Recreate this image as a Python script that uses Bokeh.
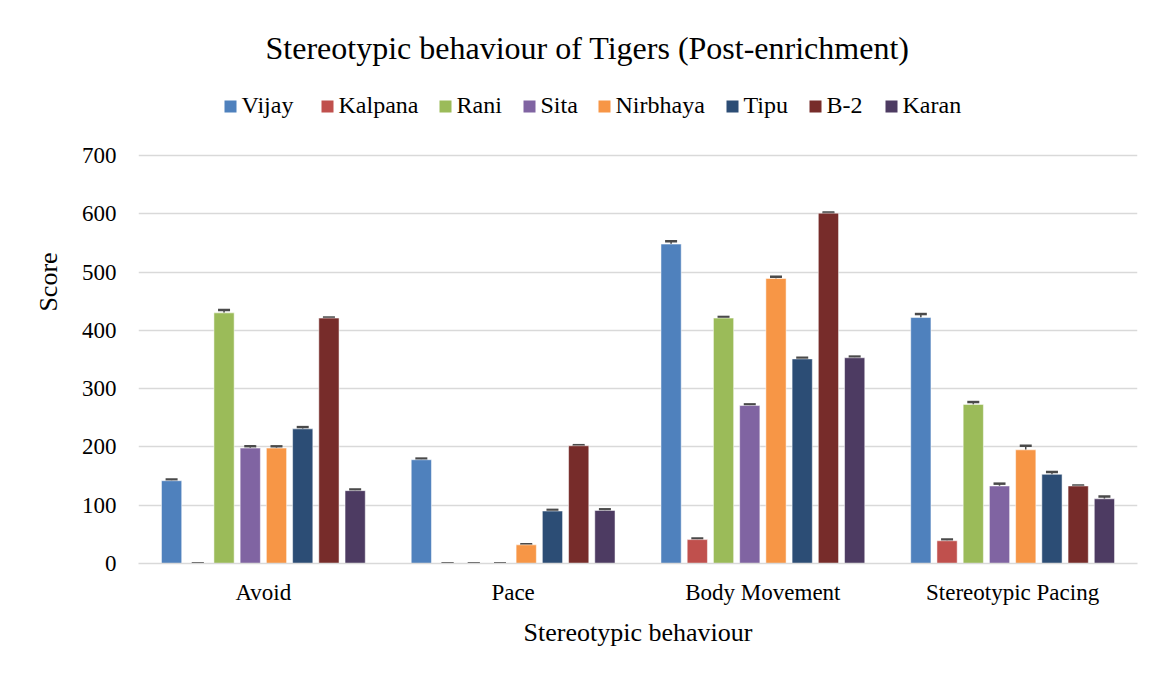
from bokeh.plotting import figure
from bokeh.models import (ColumnDataSource, FactorRange, Range1d, FixedTicker, Whisker,
                          TeeHead, Label, BoxAnnotation)
from bokeh.transform import dodge
from bokeh.embed import file_html
from bokeh.resources import INLINE

categories = ["Avoid", "Pace", "Body Movement", "Stereotypic Pacing"]
tigers = ["Vijay", "Kalpana", "Rani", "Sita", "Nirbhaya", "Tipu", "B-2", "Karan"]
colors = ["#4f81bd", "#c0504d", "#9bbb59", "#8064a2", "#f79646", "#2c4d75", "#772c2a", "#4d3b62"]

vijay    = [142, 178, 548, 422]
kalpana  = [0, 0, 41, 39]
rani     = [430, 0, 421, 273]
sita     = [198, 0, 271, 133]
nirbhaya = [198, 32, 489, 195]
tipu     = [231, 90, 351, 153]
b2       = [421, 202, 601, 133]
karan    = [125, 91, 353, 111]

vijay_err    = [2, 2, 5, 6]
kalpana_err  = [0, 0, 2, 2]
rani_err     = [5, 0, 2, 4]
sita_err     = [3, 0, 2, 4]
nirbhaya_err = [3, 1, 3, 7]
tipu_err     = [3, 2, 2, 4]
b2_err       = [1, 1, 1, 1]
karan_err    = [2, 2, 2, 4]

series = [vijay, kalpana, rani, sita, nirbhaya, tipu, b2, karan]
errors = [vijay_err, kalpana_err, rani_err, sita_err, nirbhaya_err, tipu_err, b2_err, karan_err]

y_ticks = [0, 100, 200, 300, 400, 500, 600, 700]

FONT = "Liberation Serif"

# frame extends to the top of the figure so title/legend live inside it (no clipping)
FRAME_LEFT = 138
FRAME_H = 563
Y_TOP = 700 * FRAME_H / 408.0

p = figure(x_range=FactorRange(*categories, range_padding=0), y_range=Range1d(0, Y_TOP),
           width=1150, height=665, output_backend="svg", toolbar_location=None,
           min_border_left=FRAME_LEFT, min_border_right=13, min_border_top=0, min_border_bottom=102)
p.outline_line_color = None
p.background_fill_color = "white"
p.border_fill_color = "white"

pitch = 0.105
bw = 0.081
for i, (name, vals, errs, col) in enumerate(zip(tigers, series, errors, colors)):
    off = (i - 3.5) * pitch
    src = ColumnDataSource(dict(cat=categories, val=vals,
                                upper=[v + e for v, e in zip(vals, errs)],
                                lower=[v - e for v, e in zip(vals, errs)]))
    p.vbar(x=dodge("cat", off, range=p.x_range), top="val", bottom=0, width=bw,
           source=src, fill_color=col, line_color="white", line_alpha=0.5, line_width=1)
    w = Whisker(base=dodge("cat", off, range=p.x_range), upper="upper", lower="lower",
                source=src, line_color="#4a4a4a", line_width=1.5,
                upper_head=TeeHead(size=12, line_color="#4a4a4a", line_width=2.5),
                lower_head=TeeHead(size=12, line_color="#4a4a4a", line_width=2.5))
    p.add_layout(w)

# legend (drawn as annotations so that it keeps the serif font)
legend_square_x = [224, 321, 439, 523, 598, 726, 809, 885]
SQ = 12
SQ_TOP = 100
for name, col, sx in zip(tigers, colors, legend_square_x):
    x0 = sx - FRAME_LEFT
    p.add_layout(BoxAnnotation(left=x0, right=x0 + SQ,
                               bottom=FRAME_H - SQ_TOP - SQ, top=FRAME_H - SQ_TOP,
                               left_units="screen", right_units="screen",
                               bottom_units="screen", top_units="screen",
                               fill_color=col, fill_alpha=1.0, line_color=None))
    p.add_layout(Label(x=x0 + SQ + 5, y=FRAME_H - SQ_TOP - SQ / 2 + 2,
                       x_units="screen", y_units="screen", text=name,
                       text_font=FONT, text_font_size="24px", text_align="left",
                       text_baseline="middle", text_color="#000000"))

title = Label(x=449, y=516, x_units="screen", y_units="screen",
              text="Stereotypic behaviour of Tigers (Post-enrichment)",
              text_font=FONT, text_font_size="32px", text_align="center",
              text_baseline="middle", text_color="#000000")
p.add_layout(title)

p.yaxis.ticker = FixedTicker(ticks=y_ticks)
p.ygrid.ticker = FixedTicker(ticks=y_ticks)
p.ygrid.grid_line_color = "#d9d9d9"
p.ygrid.grid_line_width = 1.5
p.xgrid.grid_line_color = None

for ax in (p.xaxis, p.yaxis):
    ax.major_tick_line_color = None
    ax.minor_tick_line_color = None
    ax.major_tick_out = 0
    ax.major_tick_in = 0
    ax.minor_tick_out = 0
    ax.major_label_text_font = FONT
    ax.major_label_text_font_size = "23px"
    ax.major_label_text_color = "#000000"
    ax.axis_label_text_font = FONT
    ax.axis_label_text_font_size = "26px"
    ax.axis_label_text_font_style = "normal"
    ax.axis_label_text_color = "#000000"

p.yaxis.axis_line_color = None
p.xaxis.axis_line_color = "#d9d9d9"
p.xaxis.axis_line_width = 1.5
p.yaxis.major_label_standoff = 22
p.xaxis.major_label_standoff = 16
p.yaxis.axis_label = "Score"
p.xaxis.axis_label = "Stereotypic behaviour"
p.yaxis.axis_label_standoff = 16
p.xaxis.axis_label_standoff = 10

open("out.html", "w").write(file_html(p, INLINE))
